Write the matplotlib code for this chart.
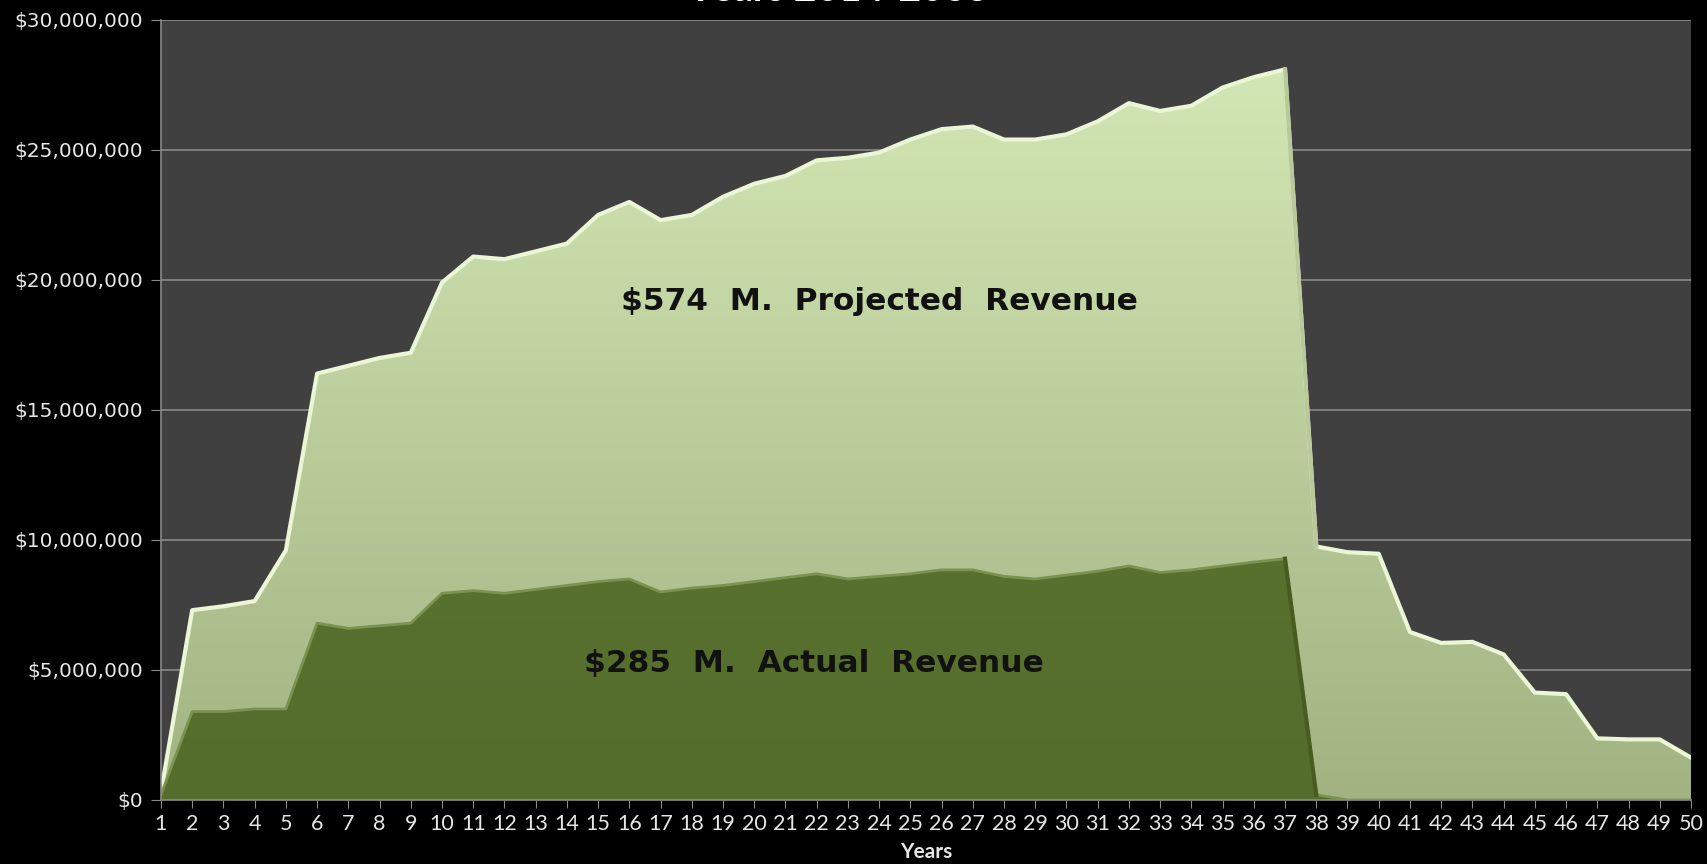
import matplotlib.pyplot as plt
import numpy as np
from matplotlib.patches import PathPatch
from matplotlib.ticker import FuncFormatter

years = list(range(1, 51))

# projected revenue per year ($M)
projected = [0.3, 7.3, 7.45, 7.65, 9.6, 16.4, 16.7, 17.0, 17.2, 19.9,
             20.9, 20.8, 21.1, 21.4, 22.5, 23.0, 22.3, 22.5, 23.2, 23.7,
             24.0, 24.6, 24.7, 24.9, 25.4, 25.8, 25.9, 25.4, 25.4, 25.6,
             26.1, 26.8, 26.5, 26.7, 27.4, 27.8, 28.1, 9.75, 9.53, 9.47,
             6.46, 6.04, 6.08, 5.6, 4.13, 4.07, 2.37, 2.33, 2.33, 1.63]

# actual revenue per year ($M)
actual = [0.2, 3.4, 3.4, 3.5, 3.5, 6.8, 6.6, 6.7, 6.8, 7.95,
          8.05, 7.95, 8.1, 8.25, 8.4, 8.5, 8.0, 8.15, 8.25, 8.4,
          8.55, 8.7, 8.5, 8.6, 8.7, 8.85, 8.85, 8.6, 8.5, 8.65,
          8.8, 9.0, 8.75, 8.85, 9.0, 9.15, 9.28, 0.2, 0.0, 0.0,
          0.0, 0.0, 0.0, 0.0, 0.0, 0.0, 0.0, 0.0, 0.0, 0.0]

yticks = [0, 5, 10, 15, 20, 25, 30]

x = np.array(years)
proj = np.array(projected) * 1e6
act = np.array(actual) * 1e6

fig = plt.figure(figsize=(17.07, 8.64), dpi=100, facecolor='black')
ax = fig.add_axes([0.0943, 0.0741, 0.8963, 0.9028])
ax.set_facecolor('#404040')

ax.set_xlim(1, 50)
ax.set_ylim(0, 30e6)


def gradient_fill(y, top_color, bottom_color, zorder):
    poly = ax.fill_between(x, 0, y, color='none', lw=0, zorder=zorder)
    path = poly.get_paths()[0]
    patch = PathPatch(path, transform=ax.transData, facecolor='none', edgecolor='none')
    ax.add_patch(patch)
    t = np.linspace(0, 1, 256)[:, None]
    c1 = np.array(plt.matplotlib.colors.to_rgb(top_color))
    c2 = np.array(plt.matplotlib.colors.to_rgb(bottom_color))
    img = (1 - t)[..., None] * c1 + t[..., None] * c2
    img = np.repeat(img, 2, axis=1)
    im = ax.imshow(img, extent=[1, 50, 0, 30e6], aspect='auto', origin='upper',
                   zorder=zorder, interpolation='bilinear')
    im.set_clip_path(patch)


gradient_fill(proj, '#d6eab8', '#a2b382', 2)
ax.plot(x, proj, color='#eaf6d6', lw=3, zorder=2.5, solid_joinstyle='round')
ax.plot([37, 38], [proj[36], proj[37]], color='#b9c99c', lw=3, zorder=2.6)

gradient_fill(act, '#627a36', '#556d2c', 3)
ax.plot(x, act, color='#7a9350', lw=2, zorder=3.5)
ax.plot([37, 38], [act[36], act[37]], color='#485c22', lw=3, zorder=3.6)

ax.set_yticks([v * 1e6 for v in yticks])
ax.yaxis.set_major_formatter(FuncFormatter(lambda v, p: '${:,.0f}'.format(v)))
ax.set_xticks(years)
ax.grid(axis='y', color='#8a8a8a', lw=1.2, zorder=1)
ax.set_axisbelow(True)

for s in ['top', 'right']:
    ax.spines[s].set_visible(False)
for s in ['left', 'bottom']:
    ax.spines[s].set_color('#8a8a8a')
    ax.spines[s].set_linewidth(1.2)
    ax.spines[s].set_zorder(5)

ax.tick_params(axis='y', colors='#8a8a8a', labelcolor='#e6e6e6', length=7,
               labelsize=14.5, pad=6)
ax.tick_params(axis='x', colors='#8a8a8a', labelcolor='#e6e6e6', length=6,
               labelsize=15.5, pad=4)
for lbl in ax.get_yticklabels():
    lbl.set_family('DejaVu Sans')
for lbl in ax.get_xticklabels():
    lbl.set_family('Lato')

ax.set_xlabel('Years', color='#e6e6e6', fontsize=15, fontweight='bold',
              family='Lato', labelpad=6)

ax.text(24, 19.16e6, '$574  M.  Projected  Revenue', ha='center', va='center',
        fontsize=22.5, fontweight='bold', color='#111111', zorder=6,
        family='DejaVu Sans')
ax.text(21.9, 5.23e6, '$285  M.  Actual  Revenue', ha='center', va='center',
        fontsize=22.5, fontweight='bold', color='#111111', zorder=6,
        family='DejaVu Sans')

fig.text(0.491, 1 - 1 / 864, 'Years 2014-2063', ha='center', va='baseline',
         fontsize=28, fontweight='bold', color='white', family='Lato')

fig.savefig('out.png', dpi=100, facecolor='black')
